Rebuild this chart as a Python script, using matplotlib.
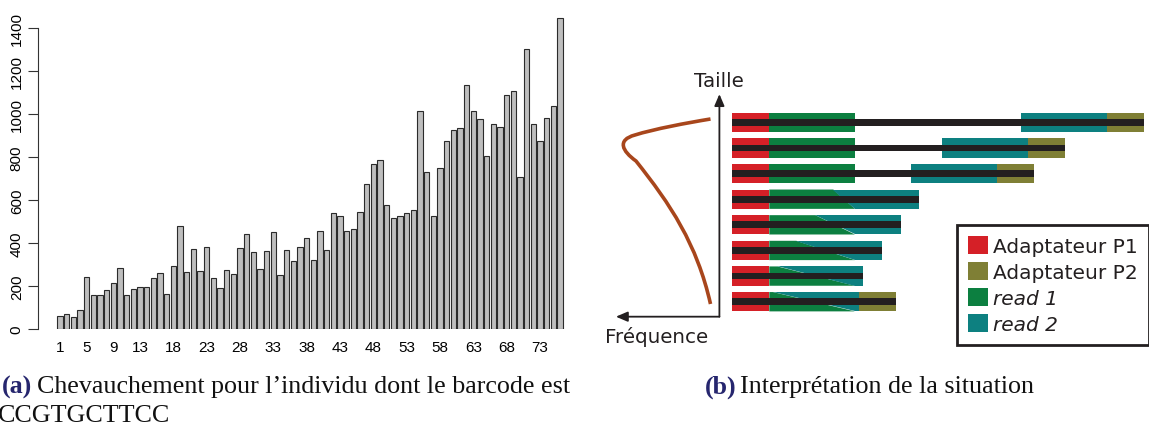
import numpy as np
import matplotlib
matplotlib.use("Agg")
import matplotlib.pyplot as plt
from matplotlib.patches import Rectangle, Polygon, Patch, PathPatch
from matplotlib.path import Path

# --- bar chart data (a) ---
counts = [59, 71, 54, 90, 240, 158, 160, 181, 215, 284,
          160, 184, 195, 197, 236, 262, 161, 291, 480, 266,
          372, 271, 380, 236, 192, 273, 256, 378, 442, 360,
          281, 363, 450, 251, 366, 315, 380, 425, 319, 457,
          369, 540, 527, 457, 467, 544, 676, 769, 788, 578,
          515, 526, 538, 552, 1012, 729, 527, 747, 876, 926,
          936, 1133, 1016, 975, 806, 955, 938, 1088, 1107, 709,
          1304, 952, 873, 980, 1037, 1445]
bar_pos = np.arange(1, len(counts) + 1)
xtick_shown = [1, 5, 9, 13, 18, 23, 28, 33, 38, 43, 48, 53, 58, 63, 68, 73]
yticks = [0, 200, 400, 600, 800, 1000, 1200, 1400]

# --- diagram data (b) ---
frag_len = [412, 333, 302, 187, 169, 150, 131, 164]   # fragment length (px units)
has_p2 = [1, 1, 1, 0, 0, 0, 0, 1]
adapt_len = 37.4
read_len = 85.6
legend_labels = ["Adaptateur P1", "Adaptateur P2", "read 1", "read 2"]

c_p1, c_p2, c_r1, c_r2 = "#d52027", "#7f7f35", "#0c7f40", "#0d8080"
c_dark = "#231f20"
c_curve = "#a8461c"

W, H = 1149, 427
fig = plt.figure(figsize=(W / 100, H / 100), dpi=100)

# ---------------- (a) ----------------
ax = fig.add_axes([37.7 / W, (H - 330) / H, (565 - 37.7) / W, 1460 * 0.215 / H])
ax.bar(bar_pos, counts, width=0.833, color="#bebebe", edgecolor="#2b2b2b", linewidth=0.8)
ax.set_xlim(-2.345, 76.75)
ax.set_ylim(0, 1460)
for s in ["top", "right", "bottom"]:
    ax.spines[s].set_visible(False)
ax.spines["left"].set_bounds(0, 1400)
ax.spines["left"].set_linewidth(0.8)
ax.spines["left"].set_color("#333333")
ax.set_yticks(yticks)
ax.set_yticklabels([str(v) for v in yticks], rotation=90, va="center",
                   family="Liberation Sans", fontsize=11)
ax.tick_params(axis="y", length=7, width=0.8, color="#333333", pad=3)
ax.set_xticks(xtick_shown)
ax.set_xticklabels([str(v) for v in xtick_shown], family="Liberation Sans", fontsize=11)
ax.tick_params(axis="x", length=0, pad=8)

# ---------------- (b) ----------------
ax2 = fig.add_axes([590 / W, (H - 360) / H, 559 / W, 300 / H])
ax2.set_xlim(-141.9, 417.1)
ax2.set_ylim(9.235, -2.47)
ax2.axis("off")

half = 0.377     # half height of a colored read band
bh = 0.13        # half height of the black strand
for i, L in enumerate(frag_len):
    top, bot = i - half, i + half
    left_end = adapt_len + read_len
    r2_end = L - adapt_len if has_p2[i] else L
    r2_start = r2_end - read_len
    # P1 adapter
    ax2.add_patch(Rectangle((0, top), adapt_len, bot - top, color=c_p1, lw=0))
    if r2_start >= left_end:
        ax2.add_patch(Rectangle((adapt_len, top), read_len, bot - top, color=c_r1, lw=0))
        ax2.add_patch(Rectangle((r2_start, top), read_len, bot - top, color=c_r2, lw=0))
    else:
        # overlapping reads: split by a slanted edge
        ax2.add_patch(Polygon([(adapt_len, top), (r2_start, top), (left_end, bot),
                               (adapt_len, bot)], closed=True, color=c_r1, lw=0))
        ax2.add_patch(Polygon([(r2_start, top), (r2_end, top), (r2_end, bot),
                               (left_end, bot)], closed=True, color=c_r2, lw=0))
    if has_p2[i]:
        ax2.add_patch(Rectangle((r2_end, top), adapt_len, bot - top, color=c_p2, lw=0))
    ax2.add_patch(Rectangle((0, i - bh), L, 2 * bh, color=c_dark, lw=0))

# axes arrows
corner = (-12.5, 7.584)
ax2.annotate("", xy=(-12.5, -1.1), xytext=corner,
             arrowprops=dict(arrowstyle="-|>,head_length=0.7,head_width=0.3",
                             color=c_dark, lw=1.3, shrinkA=0, shrinkB=0))
ax2.annotate("", xy=(-116, 7.584), xytext=corner,
             arrowprops=dict(arrowstyle="-|>,head_length=0.7,head_width=0.3",
                             color=c_dark, lw=1.3, shrinkA=0, shrinkB=0))
ax2.text(-13, -1.65, "Taille", ha="center", va="center", fontsize=14.3, color=c_dark)
ax2.text(-75, 8.33, "Fréquence", ha="center", va="center", fontsize=14.3, color=c_dark)

# size distribution curve (freehand shape)
curve_pts = [(-21.4, -0.129), (-45.7, 0.027), (-77.7, 0.261), (-97, 0.496),
             (-115.2, 0.691), (-109.8, 1.12), (-95.9, 1.51),
             (-61.7, 3.188), (-34.9, 4.749), (-21.4, 7.089)]
codes = [Path.MOVETO] + [Path.CURVE4] * 9
ax2.add_patch(PathPatch(Path(curve_pts, codes), fill=False, edgecolor=c_curve,
                        lw=2.6, capstyle="butt"))

handles = [Patch(facecolor=c, edgecolor="none") for c in (c_p1, c_p2, c_r1, c_r2)]
leg = ax2.legend(handles, legend_labels, loc="upper left",
                 bbox_to_anchor=(957.2 / W, (H - 226) / H), bbox_transform=fig.transFigure,
                 fancybox=False, edgecolor=c_dark, framealpha=1, borderaxespad=0,
                 fontsize=14.5, handlelength=1.0, handleheight=0.96, handletextpad=0.23,
                 labelspacing=0.32, borderpad=0.55)
leg.get_frame().set_linewidth(2)
for t in leg.get_texts():
    t.set_color(c_dark)
for t in leg.get_texts()[2:]:
    t.set_fontstyle("italic")

# ---------------- captions ----------------
navy = "#26266e"
serif = "Liberation Serif"
def fy(py):
    return (H - py) / H
fig.text(32 / W, fy(393.3), "(a)", ha="right", va="baseline", fontsize=18.7,
         family=serif, weight="bold", color=navy)
fig.text(36.7 / W, fy(393.3), "Chevauchement pour l\u2019individu dont le barcode est",
         ha="left", va="baseline", fontsize=18.7, family=serif, color="#111111")
fig.text(-2 / W, fy(421.7), "CCGTGCTTCC", ha="left", va="baseline", fontsize=18.7,
         family=serif, color="#111111")
fig.text(705 / W, fy(393.3), "(b)", ha="left", va="baseline", fontsize=18.7,
         family=serif, weight="bold", color=navy)
fig.text(740 / W, fy(393.3), "Interprétation de la situation", ha="left", va="baseline",
         fontsize=18.7, family=serif, color="#111111")

fig.savefig("out.png", dpi=100)
